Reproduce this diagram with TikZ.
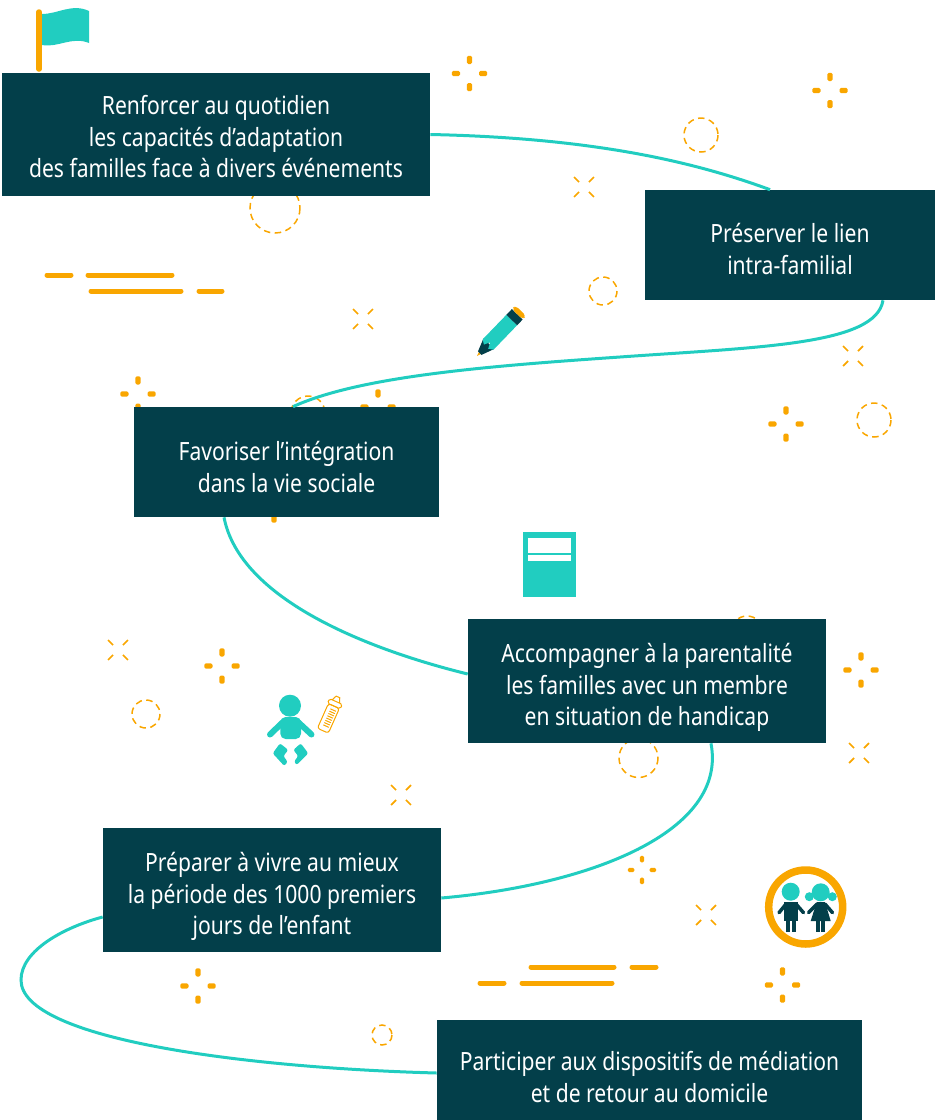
\documentclass[tikz,border=0pt]{standalone}
\usepackage{fontspec}
\setmainfont[FakeStretch=0.84]{Noto Sans}
\usetikzlibrary{calc}
\definecolor{darkteal}{HTML}{033F4A}
\definecolor{lightteal}{HTML}{21CDC0}
\definecolor{amber}{HTML}{F9A600}
\newcommand{\lift}[1]{\rule{0pt}{#1}}
\tikzset{
  stagebox/.style={fill=darkteal, text=white, inner sep=0pt, align=center, font=\fontsize{14.3}{18.1}\selectfont},
  link/.style={lightteal, line width=0.06cm},
  dashring/.style={amber, line width=0.03cm, dash pattern=on 0.13cm off 0.09cm},
  bar/.style={amber, line width=0.1cm, line cap=round},
  pics/sparkle/.style={code={
    \foreach \a in {0,90,180,270}
      \fill[amber, rounded corners=0.8pt, rotate=\a] (9.5,-2.6) rectangle (17.7,2.6);
  }},
  pics/burst/.style={code={
    \foreach \a in {45,135,225,315}
      \draw[amber, line width=0.035cm, rotate=\a] (7,0) -- (14,0);
  }}
}
\begin{document}
\begin{tikzpicture}[x=0.02cm, y=-0.02cm]
  \useasboundingbox (0,0) rectangle (940,1120);
  % ornaments
  \foreach \x/\y in {469.5/73.5, 830/90.5, 138/394, 378/407, 274/505, 786/424, 861/670, 222/666, 198/986, 782.5/985}
    \pic at (\x,\y) {sparkle};
  \pic[scale=0.8] at (642,870) {sparkle};
  \foreach \x/\y in {584/187, 363/319, 853/356, 118/650, 859/753, 401/795, 706/915}
    \pic at (\x,\y) {burst};
  \foreach \x/\y/\r in {275/208/25, 701/135/17, 603/291/14, 308/413/17, 874/420/17, 146/714/14, 638.5/758/19.5, 382/1035/10, 747/632/16}
    \draw[dashring] (\x,\y) circle (\r);
  \draw[bar] (47,275) -- (71,275);
  \draw[bar] (88,275) -- (172,275);
  \draw[bar] (91,291) -- (181,291);
  \draw[bar] (199,291) -- (222,291);
  \draw[bar] (480,983) -- (504,983);
  \draw[bar] (522,983) -- (612,983);
  \draw[bar] (531,967) -- (614,967);
  \draw[bar] (632,967) -- (656,967);
  % flag
  \draw[amber, line width=0.11cm, line cap=round] (39,12) -- (39,69);
  \fill[lightteal] (42,14) .. controls (58,14) and (72,3) .. (89,11) -- (89,43) .. controls (72,36) and (58,48) .. (42,45) -- cycle;
  % pencil
  \begin{scope}[shift={(477,356)}, rotate=46]
    \fill[amber] (0,0) -- (6,-2) -- (6,2) -- cycle;
    \fill[darkteal] (4,-2.5) -- (17,-7.5) -- (17,7.5) -- (4,2.5) -- cycle;
    \fill[lightteal] (16,-7.5) -- (13,-3) -- (19,0) -- (13,3) -- (16,7.5) -- (50,7.5) -- (50,-7.5) -- cycle;
    \fill[darkteal] (50,-7.5) rectangle (58,7.5);
    \fill[amber, rounded corners=2pt] (58,-7.5) rectangle (63,7.5);
  \end{scope}
  % book
  \fill[lightteal] (523,532) rectangle (576,597);
  \fill[white] (528,538) rectangle (571,553);
  \fill[white] (528,555) rectangle (571,561);
  % baby
  \fill[lightteal] (290,705.7) circle (11);
  \fill[lightteal, rounded corners=3pt] (280.3,739) -- (280.3,717) -- (301,717) -- (301,739) -- cycle;
  \draw[lightteal, line width=0.12cm, line cap=round] (283,722) -- (270,734.5);
  \draw[lightteal, line width=0.12cm, line cap=round] (298,722) -- (311.5,734.5);
  \fill[lightteal, rounded corners=1.2pt] (280,743.3) -- (288.3,750) -- (283.3,756) -- (287.7,761.7) -- (284.3,766) -- (272.7,753.3) -- cycle;
  \fill[lightteal, rounded corners=1.2pt] (300.7,743.3) -- (308.3,753.3) -- (296.7,765) -- (294,761.7) -- (298.3,756) -- (293.3,750) -- cycle;
  % bottle
  \begin{scope}[shift={(329,717)}, rotate=-24, amber, line width=0.02cm]
    \draw[rounded corners=1.5pt] (-6,-12) rectangle (6,15);
    \draw[rounded corners=1pt] (-7,-17) rectangle (7,-12);
    \draw (-4,-17) -- (-2,-22) -- (2,-22) -- (4,-17);
    \foreach \t in {-8,-5.5,...,11}
      \draw (-2,\t) -- (4,\t);
  \end{scope}
  % children
  \draw[amber, line width=0.15cm] (805.7,907) circle (37);
  \fill[lightteal] (790.7,891.7) circle (9);
  \fill[darkteal] (784.3,902) rectangle (797.7,921);
  \fill[darkteal] (786,920) rectangle (789.7,931.5);
  \fill[darkteal] (792.3,920) rectangle (796,931.5);
  \draw[darkteal, line width=0.07cm, line cap=round] (786,904) -- (779,912.7);
  \draw[darkteal, line width=0.07cm, line cap=round] (796,904) -- (803.5,912.7);
  \fill[lightteal] (809.3,896.7) circle (4.5);
  \fill[lightteal] (832.3,896.7) circle (4.5);
  \fill[lightteal] (820.7,892.3) circle (9);
  \fill[darkteal] (816.7,902) -- (825,902) -- (830.7,921) -- (810.7,921) -- cycle;
  \fill[darkteal] (816,920) rectangle (820,931.5);
  \fill[darkteal] (821.3,920) rectangle (825,931.5);
  \draw[darkteal, line width=0.07cm, line cap=round] (817,904) -- (808.5,912.7);
  \draw[darkteal, line width=0.07cm, line cap=round] (825,904) -- (832.5,912.7);
  % stages
  \node[stagebox, minimum width=8.56cm, minimum height=2.46cm] (renforcer) at (216,134.5) {\lift{13.3pt}Renforcer au quotidien\\les capacités d’adaptation\\des familles face à divers événements};
  \node[stagebox, minimum width=5.8cm, minimum height=2.2cm] (preserver) at (790,245) {\lift{15.5pt}Préserver le lien\\intra-familial};
  \node[stagebox, minimum width=6.1cm, minimum height=2.2cm] (favoriser) at (286.5,462) {\lift{16.4pt}Favoriser l’intégration\\dans la vie sociale};
  \node[stagebox, minimum width=7.16cm, minimum height=2.48cm] (accompagner) at (647,681) {\lift{18.4pt}Accompagner à la parentalité\\les familles avec un membre\\en situation de handicap};
  \node[stagebox, minimum width=6.76cm, minimum height=2.48cm] (preparer) at (272,890) {\lift{18.4pt}Préparer à vivre au mieux\\la période des 1000 premiers\\jours de l’enfant};
  \node[stagebox, minimum width=8.5cm, minimum height=2cm] (participer) at (649.5,1070) {\lift{19pt}Participer aux dispositifs de médiation\\et de retour au domicile};
  % links
  \draw[link] (renforcer.east) .. controls (600,138) and (700,164) .. ([xshift=-0.4cm]preserver.north);
  \draw[link] ([xshift=1.86cm]preserver.south) .. controls (876,345) and (760,347) .. (620,357) .. controls (490,366) and (360,376) .. ([xshift=0.13cm]favoriser.north);
  \draw[link] ([xshift=-1.25cm]favoriser.south) .. controls (240,600) and (370,650) .. ([yshift=0.14cm]accompagner.west);
  \draw[link] ([xshift=1.28cm]accompagner.south) .. controls (728,832) and (590,885) .. ([yshift=-0.16cm]preparer.east);
  \draw[link] ([yshift=-0.54cm]preparer.west) .. controls (65,927) and (21,950) .. (21,980) .. controls (21,1040) and (250,1068) .. ([yshift=-0.06cm]participer.west);
\end{tikzpicture}
\end{document}
